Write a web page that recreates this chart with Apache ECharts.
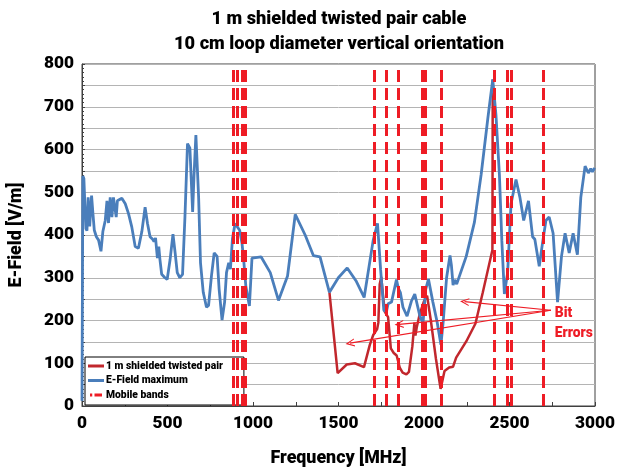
<!DOCTYPE html>
<html><head><meta charset="utf-8">
<script src="https://cdn.jsdelivr.net/npm/echarts@6/dist/echarts.min.js"></script>
<style>html,body{margin:0;padding:0;background:#fff}#c{width:618px;height:473px}</style>
</head><body><div id="c"></div>
<script>
// E-Field maximum: [frequency MHz, V/m]
const efieldMax = [[0,12],[5,538],[11,532],[17,470],[23,415],[29,410],[36,488],[45,420],[56,492],[64,450],[72,411],[84,396],[97,388],[111,362],[122,408],[136,434],[146,480],[155,428],[165,488],[175,442],[184,488],[200,442],[207,480],[233,486],[253,473],[272,450],[291,419],[311,373],[330,369],[350,408],[369,465],[383,427],[398,396],[413,390],[421,385],[430,393],[441,346],[449,373],[456,342],[466,308],[485,300],[498,296],[515,342],[532,402],[545,357],[557,312],[572,300],[588,308],[602,442],[617,614],[631,603],[647,454],[655,538],[666,634],[682,488],[693,335],[709,266],[728,231],[740,235],[757,304],[773,358],[790,350],[802,273],[819,201],[834,243],[845,312],[858,335],[868,320],[880,392],[895,427],[905,430],[922,411],[936,380],[947,335],[958,281],[979,234],[994,346],[1047,349],[1101,312],[1149,247],[1202,304],[1247,448],[1305,400],[1353,352],[1392,349],[1447,266],[1499,300],[1551,323],[1602,293],[1650,254],[1703,388],[1728,427],[1746,320],[1765,224],[1780,220],[1790,239],[1810,243],[1839,296],[1850,275],[1862,265],[1877,231],[1901,210],[1926,245],[1946,262],[1955,262],[1975,212],[1994,193],[2010,273],[2026,297],[2052,243],[2077,196],[2099,143],[2112,196],[2132,300],[2152,352],[2160,330],[2170,283],[2180,295],[2191,285],[2247,350],[2295,430],[2334,541],[2373,672],[2402,764],[2410,760],[2421,680],[2441,541],[2455,388],[2470,262],[2489,312],[2509,473],[2538,530],[2561,488],[2583,434],[2611,480],[2635,396],[2648,390],[2674,327],[2693,381],[2713,434],[2732,442],[2755,404],[2781,243],[2804,350],[2825,404],[2849,358],[2872,404],[2897,354],[2917,488],[2942,561],[2961,545],[2975,555],[2985,548],[2998,557]];
// 1 m shielded twisted pair (where it departs from the maximum)
const twistedPair = [[1447,266],[1495,77],[1548,97],[1596,100],[1649,91],[1683,143],[1703,166],[1726,180],[1733,195],[1741,285],[1750,302],[1760,260],[1771,220],[1790,208],[1806,135],[1823,124],[1840,118],[1858,90],[1875,78],[1897,74],[1912,80],[1932,140],[1944,195],[1950,165],[1958,185],[1975,215],[2000,245],[2018,258],[2040,200],[2070,110],[2097,40],[2120,82],[2147,90],[2170,92],[2188,113],[2247,151],[2301,193],[2344,266],[2400,365],[2402,764]];
// Mobile band edges [MHz]
const mobileBands = [885,910,935,957,1709,1779,1852,1988,2010,2098,2408,2487,2511,2700];
// Bit error arrows: from [MHz, V/m] to [MHz, V/m]
const arrowFrom = [2742,224];
const arrowTo = [[1567,147],[1854,191],[2237,244]];
const annotText = ['Bit','Errors'];
const annotPos = [2765,193];
const titleLines = ['1 m shielded twisted pair cable','10 cm loop diameter vertical orientation'];
const seriesNames = ['1 m shielded twisted pair','E-Field maximum','Mobile bands'];

const FONT = 'Roboto, "Liberation Sans", sans-serif';
const W = 900;
const ctx = document.createElement('canvas').getContext('2d');
function fit(text, target){ ctx.font = W + ' 100px ' + FONT; return 100*target/ctx.measureText(text).width; }
const fsTitle = fit(titleLines[0], 255);
const fsTick = fit('500', 30);
const fsXName = fit('Frequency [MHz]', 136);
const fsYName = fit('E-Field [V/m]', 105);
const fsLegend = fit(seriesNames[0], 117);
const fsAnnot = fit('Errors', 38);

const chart = echarts.init(document.getElementById('c'), null, {renderer:'canvas'});
const chevron = 'path://M5,0 L10,10 L8.6,10 L5,3 L1.4,10 L0,10 Z';
const dashIcon = 'path://M0,0 H3 V4 H0 Z M6,0 H16 V4 H6 Z';
chart.setOption({
  animation:false,
  textStyle:{fontFamily:FONT},
  title:{text:titleLines.join('\n'),
    left:339, top:7, textAlign:'center', padding:0,
    textStyle:{fontFamily:FONT, fontWeight:W, fontSize:fsTitle, lineHeight:25, color:'#000'}},
  grid:{left:81, right:22, top:64, bottom:61, show:true, borderColor:'#404040', borderWidth:1},
  legend:{orient:'vertical', left:85, top:357, backgroundColor:'#fff', borderColor:'#000', borderWidth:1,
    padding:[2,21,3,3], itemGap:0.5, itemWidth:16, itemHeight:3,
    data:[{name:seriesNames[0], icon:'rect'},{name:seriesNames[1], icon:'rect'},{name:seriesNames[2], icon:dashIcon}],
    textStyle:{fontFamily:FONT, fontWeight:W, fontSize:fsLegend, lineHeight:14, color:'#000', padding:[0,0,0,-3]}},
  xAxis:{type:'value', min:0, max:3000, interval:250,
    name:'Frequency [MHz]', nameLocation:'middle', nameGap:44,
    nameTextStyle:{fontFamily:FONT, fontWeight:W, fontSize:fsXName, color:'#000'},
    axisLine:{lineStyle:{color:'#404040', width:1}},
    axisTick:{inside:true, length:4, lineStyle:{color:'#404040'}},
    splitLine:{show:false},
    axisLabel:{margin:9, fontFamily:FONT, fontWeight:W, fontSize:fsTick, color:'#000',
      formatter:v=> v%500===0 ? String(v) : ''}},
  yAxis:{type:'value', min:0, max:800, interval:50,
    name:'E-Field [V/m]', nameLocation:'middle', nameGap:56, nameRotate:90,
    nameTextStyle:{fontFamily:FONT, fontWeight:W, fontSize:fsYName, color:'#000'},
    axisLine:{show:true, lineStyle:{color:'#404040', width:1}},
    axisTick:{show:true, inside:true, length:3, lineStyle:{color:'#404040'}},
    minorTick:{show:true, splitNumber:5, length:2, lineStyle:{color:'#404040'}},
    splitLine:{show:true, lineStyle:{color:'#b4b4b4', width:1}},
    axisLabel:{margin:8, fontFamily:FONT, fontWeight:W, fontSize:fsTick, color:'#000',
      formatter:v=> v%100===0 ? String(v) : ''}},
  series:[
    {name:seriesNames[0], type:'line', data:twistedPair, symbol:'none', z:3,
      lineStyle:{color:'#c1272d', width:2.5}, itemStyle:{color:'#c1272d'}},
    {name:seriesNames[1], type:'line', data:efieldMax, symbol:'none', z:4,
      lineStyle:{color:'#4a7ebb', width:2.8}, itemStyle:{color:'#4a7ebb'}},
    {name:seriesNames[2], type:'line', data:[], symbol:'none', z:5,
      lineStyle:{color:'#ee1c25', width:3, type:[12,6]}, itemStyle:{color:'#ee1c25'},
      markLine:{silent:true, symbol:['none','none'], label:{show:false},
        lineStyle:{color:'#ee1c25', width:3, type:[12,6]},
        data: mobileBands.map(f=>({xAxis:f}))}},
    {name:'annot', type:'line', data:[], symbol:'none', z:6,
      markLine:{silent:true, symbol:['none', chevron], symbolSize:[8,9], label:{show:false},
        lineStyle:{color:'#ee1c25', width:1.2, type:'solid'}, itemStyle:{color:'#ee1c25'},
        data: arrowTo.map(t=>[{coord:arrowFrom},{coord:t}])},
      markPoint:{silent:true, symbol:'circle', symbolSize:0,
        data:[{coord:annotPos, label:{show:true, position:'right', distance:0, align:'left',
          formatter:annotText.join('\n'), fontFamily:FONT, fontWeight:W, fontSize:fsAnnot, lineHeight:20, color:'#ee1c25'}}]}}
  ]
});
</script></body></html>
